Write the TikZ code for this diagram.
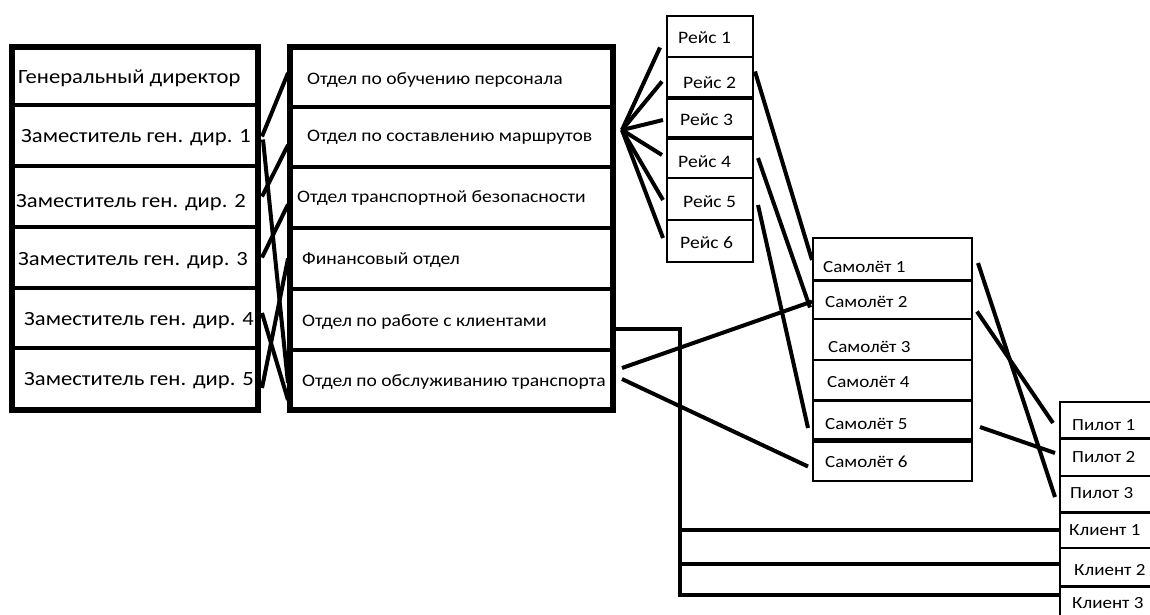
\documentclass[tikz,border=0pt]{standalone}
\usepackage{fontspec}
\setmainfont{Carlito}
\newfontfamily\widefont[FakeStretch=1.12]{Carlito}
\usetikzlibrary{calc}
\tikzset{
  bigcell/.style={draw, line width=4pt, inner sep=0pt, outer sep=0pt},
  zcell/.style={bigcell, minimum width=246pt},
  dcell/.style={bigcell, minimum width=323pt},
  rcell/.style={draw, line width=2.5pt, inner sep=0pt, outer sep=0pt, minimum width=86pt},
  scell/.style={draw, line width=2pt, inner sep=0pt, outer sep=0pt, minimum width=159pt},
  pcell/.style={draw, line width=2pt, inner sep=0pt, outer sep=0pt, minimum width=100pt},
  frame/.style={line width=6.5pt},
  ztxt/.style={anchor=west, inner sep=0pt, font=\widefont\fontsize{20.2}{22}\selectfont},
  dtxt/.style={anchor=west, inner sep=0pt, font=\widefont\fontsize{17.5}{19}\selectfont},
  rtxt/.style={anchor=west, inner sep=0pt, font=\widefont\fontsize{17.5}{19}\selectfont},
  stxt/.style={anchor=west, inner sep=0pt, font=\widefont\fontsize{17}{19}\selectfont},
  conn/.style={line width=4pt},
  thindiv/.style={line width=3.5pt}
}
\begin{document}
\begin{tikzpicture}[x=1pt, y=-1pt]
\useasboundingbox (0,0) rectangle (1150,615);
\clip (0,0) rectangle (1150,615);
\fill[white] (0,0) rectangle (1150,615);

% management column
\node[zcell, minimum height=58pt] (z0) at (135,76) {};
\node[zcell, minimum height=61pt] (z1) at (135,135.5) {};
\node[zcell, minimum height=61pt] (z2) at (135,196.5) {};
\node[zcell, minimum height=61pt] (z3) at (135,257.5) {};
\node[zcell, minimum height=60pt] (z4) at (135,318) {};
\node[zcell, minimum height=62pt] (z5) at (135,379) {};
\draw[frame] (z0.north west) rectangle (z5.south east);
\node[ztxt] (tz0) at (18,78) {Генеральный директор};
\node[ztxt] (tz1) at (21,138) {Заместитель ген. дир. 1};
\node[ztxt] (tz2) at (16,203) {Заместитель ген. дир. 2};
\node[ztxt] (tz3) at (18,261) {Заместитель ген. дир. 3};
\node[ztxt] (tz4) at (24,321) {Заместитель ген. дир. 4};
\node[ztxt] (tz5) at (24,381) {Заместитель ген. дир. 5};

% departments column
\node[dcell, minimum height=60pt] (d1) at (451.5,77) {};
\node[dcell, minimum height=60pt] (d2) at (451.5,137) {};
\node[dcell, minimum height=61pt] (d3) at (451.5,197.5) {};
\node[dcell, minimum height=61pt] (d4) at (451.5,258.5) {};
\node[dcell, minimum height=61pt] (d5) at (451.5,319.5) {};
\node[dcell, minimum height=60pt] (d6) at (451.5,380) {};
\draw[frame] (d1.north west) rectangle (d6.south east);
\node[dtxt] (td1) at (307,80) {Отдел по обучению персонала};
\node[dtxt] (td2) at (307,137) {Отдел по составлению маршрутов};
\node[dtxt] (td3) at (297,198) {Отдел транспортной безопасности};
\node[dtxt] (td4) at (302,260) {Финансовый отдел};
\node[dtxt] (td5) at (302,322) {Отдел по работе с клиентами};
\node[dtxt] (td6) at (302,382) {Отдел по обслуживанию транспорта};

% flights column
\node[rcell, minimum height=41pt] (r1) at (710,36.5) {};
\node[rcell, minimum height=41pt] (r2) at (710,77.5) {};
\node[rcell, minimum height=40pt] (r3) at (710,118) {};
\node[rcell, minimum height=40pt] (r4) at (710,158) {};
\node[rcell, minimum height=42pt] (r5) at (710,199) {};
\node[rcell, minimum height=42pt] (r6) at (710,241) {};
\draw[thindiv] (r2.south west) -- (r2.south east);
\draw[thindiv] (r3.south west) -- (r3.south east);
\node[rtxt] (tr1) at (678,38) {Рейс 1};
\node[rtxt] (tr2) at (683,83) {Рейс 2};
\node[rtxt] (tr3) at (680,120) {Рейс 3};
\node[rtxt] (tr4) at (678,162) {Рейс 4};
\node[rtxt] (tr5) at (683,202) {Рейс 5};
\node[rtxt] (tr6) at (680,243) {Рейс 6};

% aircraft column
\node[scell, minimum height=42pt] (s1) at (892.5,259) {};
\node[scell, minimum height=39pt] (s2) at (892.5,299.5) {};
\node[scell, minimum height=41pt] (s3) at (892.5,339.5) {};
\node[scell, minimum height=40pt] (s4) at (892.5,380) {};
\node[scell, minimum height=40pt] (s5) at (892.5,420) {};
\node[scell, minimum height=41pt] (s6) at (892.5,460.5) {};
\draw[line width=3pt] (s1.south west) -- (s1.south east);
\draw[line width=3pt] (s4.south west) -- (s4.south east);
\draw[line width=5pt] (s5.south west) -- (s5.south east);
\node[stxt] (ts1) at (823,267) {Самолёт 1};
\node[stxt] (ts2) at (825,302) {Самолёт 2};
\node[stxt] (ts3) at (828,347) {Самолёт 3};
\node[stxt] (ts4) at (827,382) {Самолёт 4};
\node[stxt] (ts5) at (825,424) {Самолёт 5};
\node[stxt] (ts6) at (825,462) {Самолёт 6};

% pilots and clients column
\node[pcell, minimum height=36pt] (p1) at (1110,420) {};
\node[pcell, minimum height=38pt] (p2) at (1110,457) {};
\node[pcell, minimum height=36pt] (p3) at (1110,494) {};
\node[pcell, minimum height=36pt] (k1) at (1110,530) {};
\node[pcell, minimum height=38pt] (k2) at (1110,567) {};
\node[pcell, minimum height=44pt] (k3) at (1110,608) {};
\draw[line width=3pt] (p1.south west) -- (p1.south east);
\draw[line width=3pt] (p3.south west) -- (p3.south east);
\draw[line width=3pt] (k2.south west) -- (k2.south east);
\node[stxt] (tp1) at (1072,425) {Пилот 1};
\node[stxt] (tp2) at (1072,457) {Пилот 2};
\node[stxt] (tp3) at (1070,493) {Пилот 3};
\node[stxt] (tk1) at (1069,530) {Клиент 1};
\node[stxt] (tk2) at (1074,570) {Клиент 2};
\node[stxt] (tk3) at (1072,603) {Клиент 3};

% management -> departments
\draw[conn] ($(z1.east)+(4,1)$) -- ($(d1.west)+(-2,-4)$);
\draw[conn] ($(z1.east)+(5,4)$) -- ($(d6.west)+(-2,3)$);
\draw[conn] ($(z2.east)+(4,0)$) -- ($(d2.west)+(-2,8)$);
\draw[conn] ($(z3.east)+(4,0)$) -- ($(d3.west)+(-2,7)$);
\draw[conn] ($(z4.east)+(4,-5)$) -- ($(d6.west)+(-2,20)$);
\draw[conn] ($(z5.east)+(4,9)$) -- ($(d4.west)+(-2,0)$);

% route planning -> flights
\coordinate (fan) at ($(d2.east)+(9,-7)$);
\draw[conn] (fan) -- ($(r1.west)+(-7,11)$);
\draw[conn] (fan) -- ($(r2.west)+(-5,4)$);
\draw[conn] (fan) -- ($(r3.west)+(-4,2)$);
\draw[conn] (fan) -- ($(r4.west)+(-5,-3)$);
\draw[conn] (fan) -- ($(r5.west)+(-4,1)$);
\draw[conn] (fan) -- ($(r6.west)+(-4,-3)$);

% flights -> aircraft
\draw[conn] ($(r2.east)+(2,-6)$) -- ($(s1.west)+(-1,1)$);
\draw[conn] ($(r4.east)+(5,0)$) -- ($(s2.west)+(-3,8)$);
\draw[conn] ($(r5.east)+(5,6)$) -- ($(s5.west)+(-5,8)$);

% maintenance -> aircraft
\draw[conn] ($(d6.east)+(9,-12)$) -- ($(s2.west)+(-1,2)$);
\draw[conn] ($(d6.east)+(9,-1)$) -- ($(s6.west)+(-5,6)$);

% aircraft -> pilots
\draw[conn] ($(s1.east)+(6,4)$) -- ($(p3.west)+(-5,3)$);
\draw[conn] ($(s2.east)+(5,12)$) -- ($(p1.west)+(-7,3)$);
\draw[conn] ($(s5.east)+(8,7)$) -- ($(p2.west)+(-5,-4)$);

% client service -> clients
\coordinate (kb) at (680,595);
\coordinate (k2w) at ($(k2.west)+(0,-3)$);
\coordinate (k3w) at ($(k3.west)+(0,-13)$);
\draw[conn] ($(d5.east)+(0,9.5)$) -| (kb) -- (k3w);
\draw[conn] (kb |- k1.west) -- (k1.west);
\draw[conn] (kb |- k2w) -- (k2w);
\end{tikzpicture}
\end{document}
